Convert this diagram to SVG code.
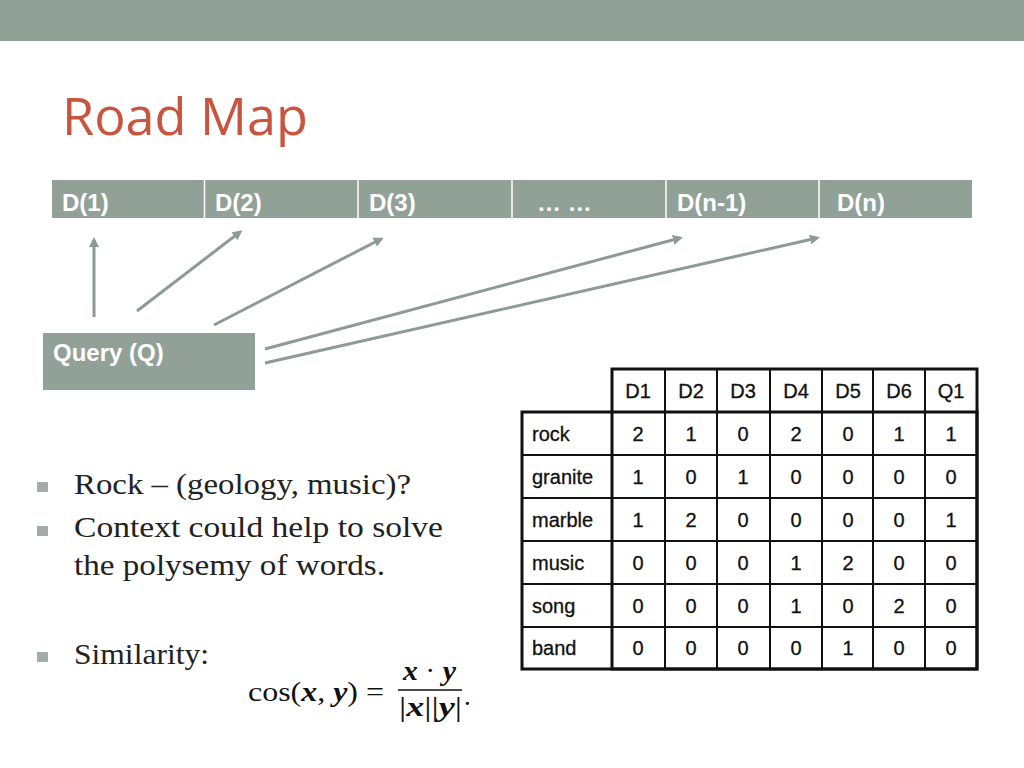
<svg xmlns="http://www.w3.org/2000/svg" width="1024" height="768" viewBox="0 0 1024 768">
<defs>
<style>
.bar{fill:#92a198}
.hdr{font-family:"Liberation Sans",Arial,sans-serif;font-weight:bold;font-size:24px;fill:#ffffff}
.div{stroke:#ffffff;stroke-width:1.5}
.conn{stroke:#8c9b93;stroke-width:3;fill:none;marker-end:url(#ah)}
.tb{font-family:"Liberation Sans",Arial,sans-serif;font-size:20px;fill:#111;stroke:#111;stroke-width:0.3}
.num{text-anchor:middle}
.grid{stroke:#111;stroke-width:2;fill:none}
.body{font-family:"Liberation Serif","Times New Roman",serif;font-size:29px;fill:#222}
.bul{fill:#a3aca8}
.m{font-family:"Liberation Serif","Times New Roman",serif;font-size:27px;fill:#111}
.mv{font-weight:bold;font-style:italic}
</style>
<marker id="ah" markerWidth="10" markerHeight="10" refX="7" refY="5" orient="auto" markerUnits="userSpaceOnUse" viewBox="0 0 10 10">
<path d="M0,0 L10,5 L0,10 Z" fill="#8c9b93"/>
</marker>
</defs>
<rect width="1024" height="768" fill="#ffffff"/>
<rect x="0" y="0" width="1024" height="41" class="bar"/>
<text x="62" y="135" font-family="'Open Sans',Lato,sans-serif" font-size="51" fill="#c9553e" textLength="246" lengthAdjust="spacingAndGlyphs">Road Map</text>

<g id="doc-bar">
<rect x="52" y="180" width="920" height="38" class="bar"/>
<line x1="204.5" y1="180" x2="204.5" y2="218" class="div"/>
<line x1="358" y1="180" x2="358" y2="218" class="div"/>
<line x1="512" y1="180" x2="512" y2="218" class="div"/>
<line x1="666" y1="180" x2="666" y2="218" class="div"/>
<line x1="819" y1="180" x2="819" y2="218" class="div"/>
</g>
<g id="d1"><text x="62" y="211" class="hdr">D(1)</text></g>
<g id="d2"><text x="215" y="211" class="hdr">D(2)</text></g>
<g id="d3"><text x="369" y="211" class="hdr">D(3)</text></g>
<g id="dots"><text x="537" y="211" class="hdr">… …</text></g>
<g id="dn1"><text x="677" y="211" class="hdr">D(n-1)</text></g>
<g id="dn"><text x="837" y="211" class="hdr">D(n)</text></g>

<g id="query">
<rect x="43" y="333" width="212" height="57" class="bar"/>
<text x="53" y="361" class="hdr">Query (Q)</text>
</g>

<g id="connectors">
<line x1="94" y1="317" x2="94" y2="240" class="conn"/>
<line x1="137" y1="311" x2="240" y2="232" class="conn"/>
<line x1="214" y1="325" x2="381" y2="239" class="conn"/>
<line x1="265" y1="349" x2="680" y2="238" class="conn"/>
<line x1="265" y1="363" x2="817" y2="238" class="conn"/>
</g>

<g id="table">
<path class="grid" d="M612,369 H977 V669 H522 V412 H977 M522,455 H977 M522,498 H977 M522,541 H977 M522,584 H977 M522,627 H977 M612,369 V669 M665,369 V669 M717,369 V669 M770,369 V669 M822,369 V669 M873,369 V669 M925,369 V669"/>
<rect x="522" y="412" width="455" height="257" fill="none" stroke="#111" stroke-width="3"/>
<rect x="612" y="369" width="365" height="300" fill="none" stroke="#111" stroke-width="3"/>
<g class="tb num">
<text x="638" y="398">D1</text><text x="691" y="398">D2</text><text x="743" y="398">D3</text><text x="796" y="398">D4</text><text x="848" y="398">D5</text><text x="899" y="398">D6</text><text x="951" y="398">Q1</text>
<text x="638" y="441">2</text><text x="691" y="441">1</text><text x="743" y="441">0</text><text x="796" y="441">2</text><text x="848" y="441">0</text><text x="899" y="441">1</text><text x="951" y="441">1</text>
<text x="638" y="484">1</text><text x="691" y="484">0</text><text x="743" y="484">1</text><text x="796" y="484">0</text><text x="848" y="484">0</text><text x="899" y="484">0</text><text x="951" y="484">0</text>
<text x="638" y="527">1</text><text x="691" y="527">2</text><text x="743" y="527">0</text><text x="796" y="527">0</text><text x="848" y="527">0</text><text x="899" y="527">0</text><text x="951" y="527">1</text>
<text x="638" y="570">0</text><text x="691" y="570">0</text><text x="743" y="570">0</text><text x="796" y="570">1</text><text x="848" y="570">2</text><text x="899" y="570">0</text><text x="951" y="570">0</text>
<text x="638" y="613">0</text><text x="691" y="613">0</text><text x="743" y="613">0</text><text x="796" y="613">1</text><text x="848" y="613">0</text><text x="899" y="613">2</text><text x="951" y="613">0</text>
<text x="638" y="655">0</text><text x="691" y="655">0</text><text x="743" y="655">0</text><text x="796" y="655">0</text><text x="848" y="655">1</text><text x="899" y="655">0</text><text x="951" y="655">0</text>
</g>
<g class="tb">
<text x="532" y="441">rock</text>
<text x="532" y="484">granite</text>
<text x="532" y="527">marble</text>
<text x="532" y="570">music</text>
<text x="532" y="613">song</text>
<text x="532" y="655">band</text>
</g>
</g>

<g id="bullets">
<rect x="37" y="482" width="11" height="10" class="bul"/>
<rect x="37" y="526" width="11" height="10" class="bul"/>
<rect x="37" y="652" width="11" height="10" class="bul"/>
<text x="74" y="494" class="body" textLength="337" lengthAdjust="spacingAndGlyphs">Rock – (geology, music)?</text>
<text x="74" y="537" class="body" textLength="369" lengthAdjust="spacingAndGlyphs">Context could help to solve</text>
<text x="74" y="575" class="body" textLength="311" lengthAdjust="spacingAndGlyphs">the polysemy of words.</text>
<text x="74" y="664" class="body" textLength="135" lengthAdjust="spacingAndGlyphs">Similarity:</text>
</g>

<g id="formula" class="m">
<text x="248" y="701" textLength="136" lengthAdjust="spacingAndGlyphs">cos(<tspan class="mv">x</tspan>, <tspan class="mv">y</tspan>) =</text>
<text x="403" y="680" textLength="53" lengthAdjust="spacingAndGlyphs"><tspan class="mv">x</tspan> · <tspan class="mv">y</tspan></text>
<line x1="398" y1="690" x2="462" y2="690" stroke="#111" stroke-width="1.5"/>
<text x="399" y="716" textLength="63" lengthAdjust="spacingAndGlyphs">|<tspan class="mv">x</tspan>||<tspan class="mv">y</tspan>|</text>
<text x="464" y="705">.</text>
</g>
</svg>
